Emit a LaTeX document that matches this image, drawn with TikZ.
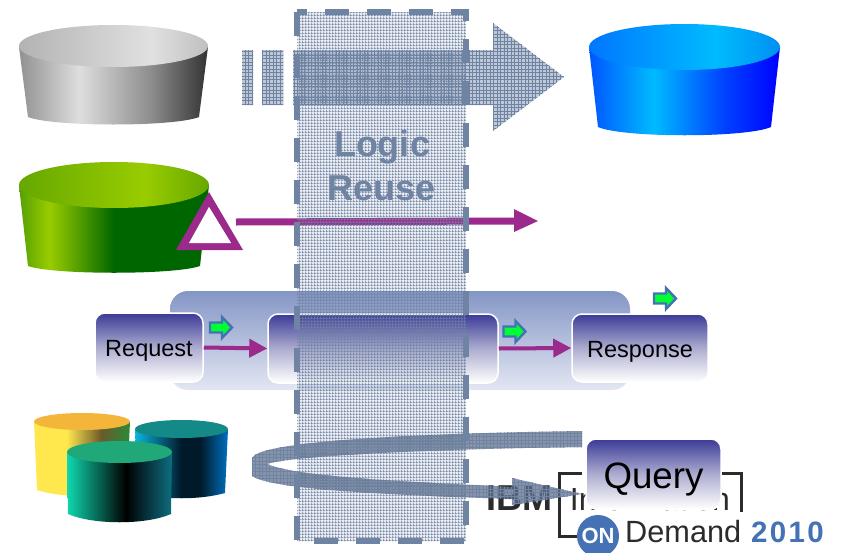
\documentclass[tikz,border=0pt]{standalone}
\usepackage{fontspec}
\setmainfont{Liberation Sans}
\usetikzlibrary{arrows.meta,patterns}
\definecolor{bandc}{HTML}{6F83A3}
\definecolor{purp}{HTML}{9C2A8C}
\definecolor{onblue}{HTML}{4472B4}
\definecolor{boxtop}{HTML}{3B3A96}
\pgfdeclarepatternformonly{fgrid}{\pgfqpoint{-.5pt}{-.5pt}}{\pgfqpoint{4pt}{4pt}}{\pgfqpoint{3.5pt}{3.5pt}}{
  \pgfsetlinewidth{0.8pt}
  \pgfpathmoveto{\pgfqpoint{0pt}{-.5pt}}\pgfpathlineto{\pgfqpoint{0pt}{4pt}}
  \pgfpathmoveto{\pgfqpoint{-.5pt}{0pt}}\pgfpathlineto{\pgfqpoint{4pt}{0pt}}
  \pgfusepath{stroke}}
\pgfdeclarepatternformonly{lgrid}{\pgfqpoint{-.5pt}{-.5pt}}{\pgfqpoint{2.5pt}{2.5pt}}{\pgfqpoint{3pt}{3pt}}{
  \pgfsetlinewidth{0.35pt}
  \pgfpathmoveto{\pgfqpoint{0pt}{-.5pt}}\pgfpathlineto{\pgfqpoint{0pt}{2.5pt}}
  \pgfpathmoveto{\pgfqpoint{-.5pt}{0pt}}\pgfpathlineto{\pgfqpoint{2.5pt}{0pt}}
  \pgfusepath{stroke}}
\pgfdeclarehorizontalshading{grayb}{100bp}{color(0bp)=(black!43);color(25bp)=(black!43);color(41bp)=(black!13);color(60bp)=(black!45);color(75bp)=(black!80);color(100bp)=(black!80)}
\pgfdeclarehorizontalshading{grayt}{100bp}{color(0bp)=(black!30);color(25bp)=(black!30);color(60bp)=(black!12);color(75bp)=(black!25);color(100bp)=(black!25)}
\definecolor{gA}{HTML}{55A000}\definecolor{gB}{HTML}{99CC00}\definecolor{gC}{HTML}{006600}\definecolor{gD}{HTML}{66A800}
\pgfdeclarehorizontalshading{greenb}{100bp}{color(0bp)=(gA);color(25bp)=(gA);color(33bp)=(gB);color(50bp)=(gC);color(100bp)=(gC)}
\pgfdeclarehorizontalshading{greent}{100bp}{color(0bp)=(gD);color(25bp)=(gD);color(58bp)=(gB);color(75bp)=(gD);color(100bp)=(gD)}
\definecolor{bA}{HTML}{0055FF}\definecolor{bB}{HTML}{00BBFF}\definecolor{bC}{HTML}{0044FF}\definecolor{bD}{HTML}{0000FF}\definecolor{bE}{HTML}{0077FF}\definecolor{bF}{HTML}{0090F0}
\pgfdeclarehorizontalshading{blueb}{100bp}{color(0bp)=(bA);color(25bp)=(bA);color(42bp)=(bB);color(60bp)=(bC);color(75bp)=(bD);color(100bp)=(bD)}
\pgfdeclarehorizontalshading{bluet}{100bp}{color(0bp)=(bE);color(25bp)=(bE);color(58bp)=(bB);color(75bp)=(bF);color(100bp)=(bF)}
\definecolor{yA}{HTML}{FFE84D}\definecolor{yB}{HTML}{6B5A2A}\definecolor{yC}{HTML}{2A8A3A}
\pgfdeclarehorizontalshading{yelb}{100bp}{color(0bp)=(yA);color(25bp)=(yA);color(42bp)=(yA);color(60bp)=(yB);color(75bp)=(yC);color(100bp)=(yC)}
\definecolor{tA}{HTML}{0CB4DC}\definecolor{tB}{HTML}{001A2A}\definecolor{tC}{HTML}{0070C0}
\pgfdeclarehorizontalshading{tealb}{100bp}{color(0bp)=(tA);color(25bp)=(tA);color(50bp)=(tB);color(60bp)=(tB);color(75bp)=(tC);color(100bp)=(tC)}
\definecolor{fA}{HTML}{0FD8B0}\definecolor{fB}{HTML}{000000}\definecolor{fC}{HTML}{0E6E80}
\pgfdeclarehorizontalshading{frontb}{100bp}{color(0bp)=(fA);color(25bp)=(fA);color(53bp)=(fB);color(75bp)=(fC);color(100bp)=(fC)}
\newcommand{\drum}[9]{%
  \path[shading=#9] (#1,#4) -- (#1+#6,#7) .. controls (#1+#6+25,#8+1) and (#2-#6-25,#8+1) .. (#2-#6,#7) -- (#2,#4) -- cycle;}
\newcommand{\drumlid}[5]{%
  \path[#5] ({(#1+#2)/2},#4) ellipse [x radius={(#2-#1)/2}, y radius={#4-#3}];}
\tikzset{
  flowbox/.style={rounded corners=10pt,top color=boxtop,bottom color=white,middle color={rgb,255:red,172;green,172;blue,208},draw=white,line width=1.5pt,text=black,inner sep=0pt,font=\fontsize{23.5}{28}\selectfont},
  flowarrow/.style={draw=purp,line width=4pt,-{Triangle[length=18pt,width=18pt]}},
  gridfill/.style={pattern=fgrid,pattern color=bandc},
  bandfill/.style={pattern=lgrid,pattern color=bandc},
  bandrule/.style={draw=bandc,line width=5.5pt,dash pattern=on 24pt off 18pt},
  greenarrow/.pic={\path[draw=onblue,line width=2.4pt,fill={rgb,255:red,0;green,255;blue,50}] (-11,-5) -- (1,-5) -- (1,-10.5) -- (11,0) -- (1,10.5) -- (1,5) -- (-11,5) -- cycle;}
}
\begin{document}
\begin{tikzpicture}[x=1pt,y=-1pt]
\clip (0,0) rectangle (844,552);
\fill[white] (0,0) rectangle (844,552);
% cylinders
\drum{19}{208}{25}{47}{66}{9}{117}{126}{grayb}
\drumlid{19}{208}{25}{46}{shading=grayt}
\drum{19}{209}{162}{185}{208}{9}{266}{274}{greenb}
\drumlid{19}{209}{162}{185}{shading=greent}
\drum{589}{780}{24}{47}{70}{9}{127}{137}{blueb}
\drumlid{589}{780}{24}{47}{shading=bluet}
\drum{34}{130}{413}{421}{430}{3}{490}{497}{yelb}
\drumlid{34}{130}{413}{421.5}{fill={rgb,255:red,243;green,182;blue,58}}
\drum{135}{228}{420}{429}{438}{3}{493}{499}{tealb}
\drumlid{135}{228}{420}{429}{fill={rgb,255:red,19;green,138;blue,136}}
\drum{67}{172}{441}{452}{463}{1}{514}{524}{frontb}
\drumlid{67}{172}{441}{452}{fill={rgb,255:red,32;green,168;blue,120}}
% flow
\path[rounded corners=18pt,top color={rgb,255:red,132;green,150;blue,197},bottom color={rgb,255:red,227;green,231;blue,243}] (170,291) rectangle (630,390);
\node[flowbox,minimum width=108pt,minimum height=69pt] (req) at (149,347.5) {\raisebox{0pt}[18pt][0pt]{Request}};
\node[flowbox,minimum width=230pt,minimum height=69pt] (mid) at (383,348.5) {};
\node[flowbox,minimum width=136pt,minimum height=68pt] (resp) at (640,348) {\raisebox{0pt}[18pt][0pt]{Response}};
\draw[flowarrow] (req.east) -- (mid.west);
\draw[flowarrow] (mid.east) -- (resp.west);
\pic at (221,327.5) {greenarrow};
\pic at (514.5,331.5) {greenarrow};
\pic at (665,298.5) {greenarrow};
% logo
\node[anchor=base,font=\fontsize{36}{40}\selectfont\bfseries,text={rgb,255:red,43;green,43;blue,43},inner sep=0pt] (ibm) at (519,510) {IBM};
\node[anchor=base,font=\fontsize{32}{36}\selectfont,text={rgb,255:red,43;green,43;blue,43},inner sep=0pt] (info) at (650,510) {Information};
\draw[line width=3pt,draw={rgb,255:red,43;green,43;blue,43}] (582,473) -- (559,473) -- (559,536) -- (577,536);
\draw[line width=3pt,draw={rgb,255:red,43;green,43;blue,43}] (720,473) -- (741,473) -- (741,512);
\node[circle,fill=onblue,minimum size=42pt,inner sep=0pt,text=white,font=\fontsize{22}{24}\selectfont\bfseries] (on) at (598,536) {ON};
\node[anchor=base west,font=\fontsize{30.7}{34}\selectfont,text={rgb,255:red,43;green,43;blue,43},inner sep=0pt] (dem) at (625,542) {Demand};
\node[anchor=base west,font=\fontsize{29.5}{34}\selectfont\bfseries\addfontfeature{LetterSpace=8},text=onblue,inner sep=0pt] (yr) at (751,542) {2010};
\node[flowbox,font=\fontsize{36.7}{40}\selectfont,minimum width=135pt,minimum height=70pt] (query) at (653.5,474) {\raisebox{0pt}[29pt][0pt]{Query}};
% purple arrow and triangle
\draw[draw=purp,line width=7pt] (236,222) -- (516,221);
\path[fill=purp] (514,209) -- (538,221) -- (514,232) -- cycle;
\path[fill=purp,even odd rule] (209,192) -- (243,250) -- (176,250) -- cycle (209,207) -- (231,243) -- (189,243) -- cycle;
\path[fill=white] (209,207) -- (231,243) -- (189,243) -- cycle;
% band
\path[fill=bandc,fill opacity=0.16] (297,12) rectangle (466,541);
\path[bandfill] (297,12) rectangle (466,541);
% big arrow
\path[fill=bandc,fill opacity=.45] (242,50) rectangle (253,105) (262,50) rectangle (283,105)
  (293,50) -- (493,50) -- (493,23) -- (564,77) -- (493,131) -- (493,105) -- (293,105) -- cycle;
\path[gridfill] (242,50) rectangle (253,105) (262,50) rectangle (283,105)
  (293,50) -- (493,50) -- (493,23) -- (564,77) -- (493,131) -- (493,105) -- (293,105) -- cycle;
% swirl
\path[fill=bandc!85!black,fill opacity=.75] (582,431) .. controls (440,433) and (252,440) .. (252,459) -- (252,476) .. controls (270,488) and (360,494) .. (512,499) -- (512,505) -- (582,494) -- (512,478) -- (512,487) .. controls (420,482) and (300,478) .. (267,464) .. controls (290,456) and (430,449) .. (582,447) -- cycle;
\path[gridfill] (582,431) .. controls (440,433) and (252,440) .. (252,459) -- (252,476) .. controls (270,488) and (360,494) .. (512,499) -- (512,505) -- (582,494) -- (512,478) -- (512,487) .. controls (420,482) and (300,478) .. (267,464) .. controls (290,456) and (430,449) .. (582,447) -- cycle;
\draw[bandrule] (297,12) -- (297,541) -- (466,541) -- (466,12) -- cycle;
\node[anchor=base,font=\fontsize{36}{40}\selectfont\bfseries,text=bandc,inner sep=0pt] (logic) at (382,156) {Logic};
\node[anchor=base,font=\fontsize{36}{40}\selectfont\bfseries,text=bandc,inner sep=0pt] (reuse) at (382,200) {Reuse};
\end{tikzpicture}
\end{document}
